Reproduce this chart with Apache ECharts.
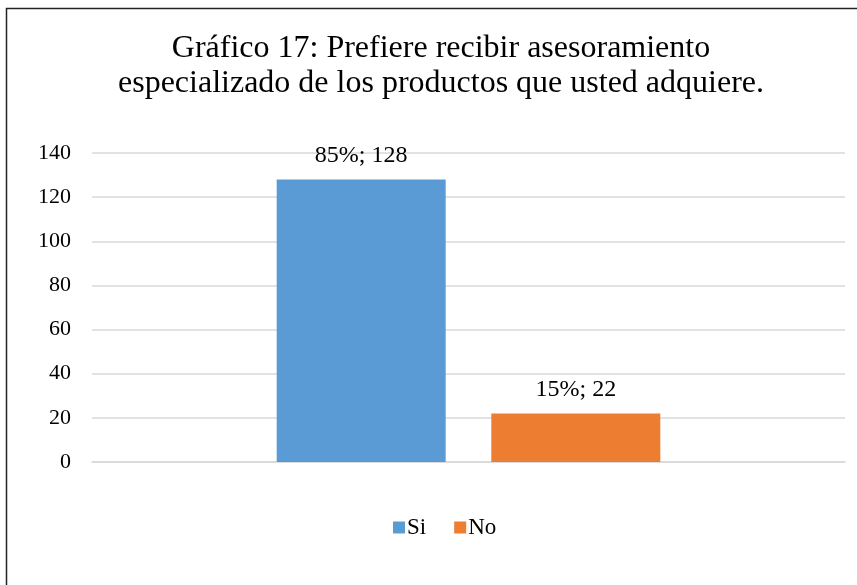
<!DOCTYPE html>
<html>
<head>
<meta charset="utf-8">
<script src="https://cdn.jsdelivr.net/npm/echarts@6/dist/echarts.min.js"></script>
<style>
  html, body { margin: 0; padding: 0; background: #fff; }
  #chart { width: 857px; height: 585px; }
</style>
</head>
<body>
<div id="chart"></div>
<script>
const categories = ["Respuesta"];
const seriesNames = ["Si", "No"];
const counts = [128, 22];
const percents = ["85%", "15%"];
const colors = ["#5b9bd5", "#ed7d31"];
const yTicks = { min: 0, max: 140, interval: 20 };

const font = "'Liberation Serif', 'Times New Roman', serif";
const chart = echarts.init(document.getElementById("chart"), null, { renderer: "canvas" });

chart.setOption({
  animation: false,
  textStyle: { fontFamily: font },
  title: {
    text: "Gráfico 17: Prefiere recibir asesoramiento\nespecializado de los productos que usted adquiere.",
    left: 436,
    top: 26,
    textAlign: "center",
    textStyle: { fontFamily: font, fontSize: 32, fontWeight: "normal", color: "#000", lineHeight: 35 },
  },
  legend: {
    data: seriesNames,
    top: 511,
    left: 388,
    itemWidth: 12,
    itemHeight: 12,
    itemGap: 28,
    icon: "rect",
    textStyle: { fontFamily: font, fontSize: 23, color: "#000", padding: [0, 0, 0, -3] },
  },
  grid: { left: 92, right: 12, top: 153, bottom: 123 },
  xAxis: {
    type: "category",
    data: categories,
    axisLabel: { show: false },
    axisTick: { show: false },
    axisLine: { lineStyle: { color: "#d9d9d9", width: 1.5 } },
  },
  yAxis: {
    type: "value",
    min: yTicks.min,
    max: yTicks.max,
    interval: yTicks.interval,
    axisLine: { show: false },
    axisTick: { show: false },
    axisLabel: { fontFamily: font, fontSize: 22, color: "#000", margin: 21 },
    splitLine: { lineStyle: { color: "#d9d9d9", width: 1.5 } },
  },
  series: seriesNames.map((name, i) => ({
    name,
    type: "bar",
    data: [counts[i]],
    barWidth: 169,
    barGap: "27%",
    itemStyle: { color: colors[i] },
    label: {
      show: true,
      position: "top",
      distance: 12,
      fontFamily: font,
      fontSize: 24,
      color: "#000",
      formatter: () => `${percents[i]}; ${counts[i]}`,
    },
  })),
  graphic: [
    {
      type: "rect",
      shape: { x: 6.5, y: 8.5, width: 900, height: 700 },
      style: { fill: "none", stroke: "#222", lineWidth: 1.5 },
      silent: true,
    },
  ],
});
</script>
</body>
</html>
